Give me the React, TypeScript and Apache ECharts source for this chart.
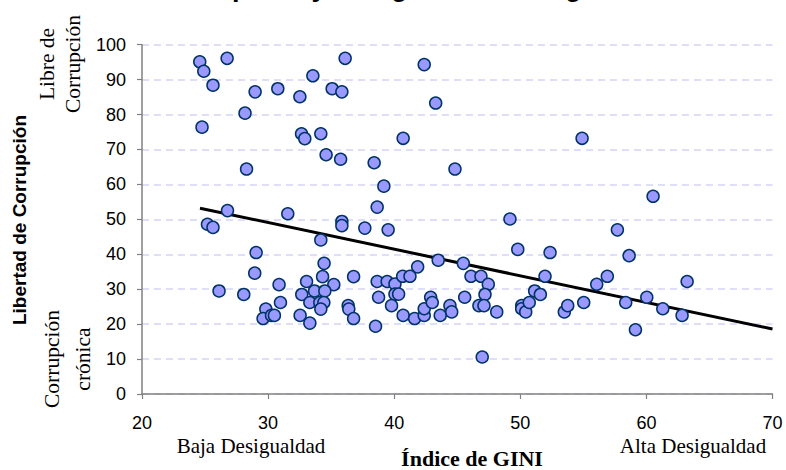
import React, { useEffect, useRef } from "react";
import * as echarts from "echarts";

// GINI index (x) vs Freedom from Corruption (y)
const giniValues: number[] = [
  24.58, 24.9, 26.75, 25.63, 24.76, 28.17, 28.97, 30.77, 32.52, 33.55,
  35.08, 35.85, 36.11, 32.65, 32.91, 34.18, 34.6, 35.75, 38.41, 39.18,
  38.65, 28.29, 26.78, 31.56, 35.85, 35.85, 25.19, 25.63, 37.67, 39.52,
  42.38, 43.29, 40.71, 54.9, 44.82, 60.53, 49.18, 57.7,
  34.18, 29.05, 34.44, 28.94, 34.32, 36.78, 30.87, 33.05, 35.21, 38.65,
  26.11, 28.07, 32.67, 33.68, 34.5, 30.98, 33.31, 34.1, 34.42, 34.18,
  38.76, 29.82, 29.6, 30.27, 30.5, 32.54, 33.31, 36.35, 36.4, 36.78, 38.52,
  49.8, 52.36, 43.49, 45.48, 41.86, 39.44, 40.06, 40.67, 41.25, 40.06,
  40.35, 39.79, 40.71, 41.62, 42.38, 42.38, 42.89, 43.02, 43.65, 44.42,
  44.56, 45.59, 46.09, 46.88, 47.46, 47.2, 46.72, 47.12, 48.13, 46.98,
  50.11, 50.11, 50.43, 50.71, 51.14, 51.59, 51.96, 53.49, 53.76, 55.03,
  56.06, 56.9,
  58.63, 58.36, 60.03, 61.3, 62.83, 63.23, 59.13,
];
const corruptionValues: number[] = [
  95.1, 92.4, 96.1, 88.4, 76.4, 80.4, 86.5, 87.4, 85.1, 91.1,
  87.4, 86.5, 96.1, 74.5, 73.1, 74.5, 68.5, 67.2, 66.2, 59.5,
  53.5, 64.4, 52.5, 51.6, 49.4, 48.2, 48.6, 47.7, 47.5, 47.0,
  94.3, 83.3, 73.2, 73.2, 64.4, 56.6, 50.1, 47.0,
  44.1, 40.5, 37.4, 34.6, 33.6, 33.6, 31.3, 32.2, 31.3, 32.2,
  29.5, 28.5, 28.5, 29.5, 29.5, 26.2, 26.2, 26.2, 26.2, 24.3,
  27.7, 24.3, 21.6, 22.5, 22.5, 22.5, 20.3, 25.3, 24.3, 21.6, 19.4,
  41.4, 40.5, 38.3, 37.4, 36.4, 32.2, 31.5, 33.7, 33.7, 28.6,
  28.6, 25.3, 22.5, 21.6, 22.5, 24.4, 27.7, 26.2, 22.5, 25.3,
  23.5, 27.7, 33.7, 33.7, 31.4, 28.5, 25.3, 25.3, 23.5, 10.6,
  25.3, 24.4, 23.5, 26.2, 29.5, 28.5, 33.7, 23.5, 25.3, 26.2,
  31.4, 33.7,
  39.6, 26.2, 27.7, 24.4, 22.5, 32.2, 18.4,
];

// Trend line end points
const trendX: number[] = [24.6, 70];
const trendY: number[] = [53.2, 18.6];

const xTicks = { min: 20, max: 70, interval: 10 };
const yTicks = { min: 0, max: 100, interval: 10 };

const titleText = "Corrupción y Desigualdad de Ingresos";
const yAxisTitle = "Libertad de Corrupción";
const xAxisTitle = "Índice de GINI";
const yTopNote = "Libre de\nCorrupción";
const yBottomNote = "Corrupción\ncrónica";
const xLeftNote = "Baja Desigualdad";
const xRightNote = "Alta Desigualdad";

export default function App() {
  const ref = useRef<HTMLDivElement>(null);
  useEffect(() => {
    if (!ref.current) return;
    const chart = echarts.init(ref.current, undefined, { renderer: "svg" });
    const points = giniValues.map((x, i) => [x, corruptionValues[i]]);
    const trend = trendX.map((x, i) => [x, trendY[i]]);
    const sans = '"Liberation Sans", Arial, sans-serif';
    const serif = '"Liberation Serif", "Times New Roman", serif';
    chart.setOption({
      animation: false,
      backgroundColor: "#ffffff",
      grid: {
        left: 142,
        right: 13.5,
        top: 44.7,
        bottom: 76,
        containLabel: false,
        outerBoundsMode: "none",
      },
      xAxis: {
        type: "value",
        min: xTicks.min,
        max: xTicks.max,
        interval: xTicks.interval,
        axisLine: { show: true, onZero: false, lineStyle: { color: "#808080", width: 1.5 } },
        axisTick: { show: true, inside: false, length: 5, lineStyle: { color: "#808080", width: 1.2 } },
        axisLabel: {
          color: "#000",
          fontFamily: sans,
          fontSize: 18,
          margin: 20,
          verticalAlign: "top",
          lineHeight: 18,
        },
        splitLine: { show: false },
      },
      yAxis: {
        type: "value",
        min: yTicks.min,
        max: yTicks.max,
        interval: yTicks.interval,
        axisLine: { show: true, onZero: false, lineStyle: { color: "#808080", width: 1.5 } },
        axisTick: { show: true, inside: false, length: 5, lineStyle: { color: "#808080", width: 1.2 } },
        axisLabel: { color: "#000", fontFamily: sans, fontSize: 18, margin: 16 },
        splitLine: {
          show: true,
          lineStyle: { color: "#d4d4fa", width: 1.5, type: [7, 5] },
        },
      },
      series: [
        {
          type: "line",
          data: trend,
          symbol: "none",
          lineStyle: { color: "#000", width: 3 },
          z: 2,
          silent: true,
        },
        {
          type: "scatter",
          data: points,
          symbol: "circle",
          symbolSize: 12,
          itemStyle: { color: "#9999ff", borderColor: "#003366", borderWidth: 1.5, opacity: 1 },
          z: 3,
        },
      ],
      graphic: [
        {
          type: "text",
          x: 406,
          y: -13,
          style: {
            text: titleText,
            fontFamily: sans,
            fontWeight: "bold",
            fontSize: 27,
            fill: "#000",
            align: "center",
            verticalAlign: "middle",
          },
        },
        {
          type: "text",
          x: 19.5,
          y: 220,
          rotation: Math.PI / 2,
          style: {
            text: yAxisTitle,
            fontFamily: sans,
            fontWeight: "bold",
            fontSize: 19,
            fill: "#000",
            align: "center",
            verticalAlign: "middle",
          },
        },
        {
          type: "text",
          x: 60,
          y: 64,
          rotation: Math.PI / 2,
          style: {
            text: yTopNote,
            fontFamily: serif,
            fontSize: 21.5,
            lineHeight: 26,
            fill: "#000",
            align: "center",
            verticalAlign: "middle",
          },
        },
        {
          type: "text",
          x: 67,
          y: 359,
          rotation: Math.PI / 2,
          style: {
            text: yBottomNote,
            fontFamily: serif,
            fontSize: 21.5,
            lineHeight: 31,
            fill: "#000",
            align: "center",
            verticalAlign: "middle",
          },
        },
        {
          type: "text",
          x: 251,
          y: 446,
          style: {
            text: xLeftNote,
            fontFamily: serif,
            fontSize: 21,
            fill: "#000",
            align: "center",
            verticalAlign: "middle",
          },
        },
        {
          type: "text",
          x: 693,
          y: 446,
          style: {
            text: xRightNote,
            fontFamily: serif,
            fontSize: 21,
            fill: "#000",
            align: "center",
            verticalAlign: "middle",
          },
        },
        {
          type: "text",
          x: 472,
          y: 458,
          style: {
            text: xAxisTitle,
            fontFamily: serif,
            fontWeight: "bold",
            fontSize: 22,
            fill: "#000",
            align: "center",
            verticalAlign: "middle",
          },
        },
      ],
    });
    return () => chart.dispose();
  }, []);
  return (
    <div
      ref={ref}
      style={{ position: "absolute", left: 0, top: 0, width: 786, height: 470, background: "#fff" }}
    />
  );
}
